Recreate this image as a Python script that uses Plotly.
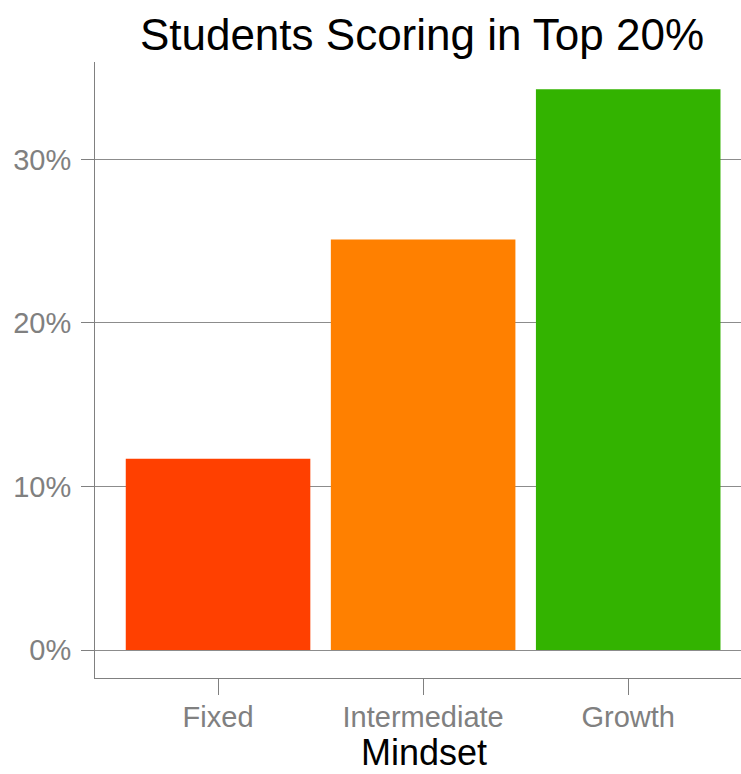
import plotly.graph_objects as go

categories = ["Fixed", "Intermediate", "Growth"]
values = [11.7, 25.1, 34.3]
bar_colors = ["#FF4000", "#FF8000", "#33B300"]
y_ticks = [0, 10, 20, 30]
y_tick_labels = ["0%", "10%", "20%", "30%"]

FONT = "Liberation Sans, Arial, sans-serif"

fig = go.Figure(go.Bar(x=categories, y=values, marker=dict(color=bar_colors, line=dict(width=0)), width=0.9))

fig.update_layout(
    width=741, height=774,
    margin=dict(l=95, r=0, t=62, b=96, autoexpand=False),
    plot_bgcolor="white", paper_bgcolor="white",
    showlegend=False,
    title=dict(text="Students Scoring in Top 20%", x=422/741, xanchor="center",
               yref="container", y=1 - 35/774, yanchor="middle",
               font=dict(family=FONT, size=44, color="black")),
    font=dict(family=FONT),
    annotations=[dict(text="Mindset", xref="paper", yref="paper",
                      x=(424 - 95) / 646, y=-(752 - 678) / 616,
                      xanchor="center", yanchor="middle", showarrow=False,
                      font=dict(family=FONT, size=36, color="black"))],
)
fig.update_xaxes(
    range=[-0.6, 2.55], showline=True, linecolor="#808080", linewidth=1,
    ticks="outside", ticklen=16, tickcolor="#808080",
    tickfont=dict(family=FONT, size=29, color="#808080"),
    ticklabelstandoff=-3, automargin=False,
    showgrid=False, zeroline=False,
)
fig.update_yaxes(
    range=[-1.71, 35.96], showline=True, linecolor="#808080", linewidth=1,
    ticks="outside", ticklen=13, tickcolor="#808080",
    tickvals=y_ticks, ticktext=y_tick_labels,
    tickfont=dict(family=FONT, size=29, color="#808080"),
    ticklabelstandoff=4, automargin=False,
    showgrid=True, gridcolor="#8c8c8c", gridwidth=1, zeroline=False,
)

fig.write_html("out.html", config={"displayModeBar": False},
               post_script="document.body.style.margin='0';document.body.style.overflow='hidden';")
